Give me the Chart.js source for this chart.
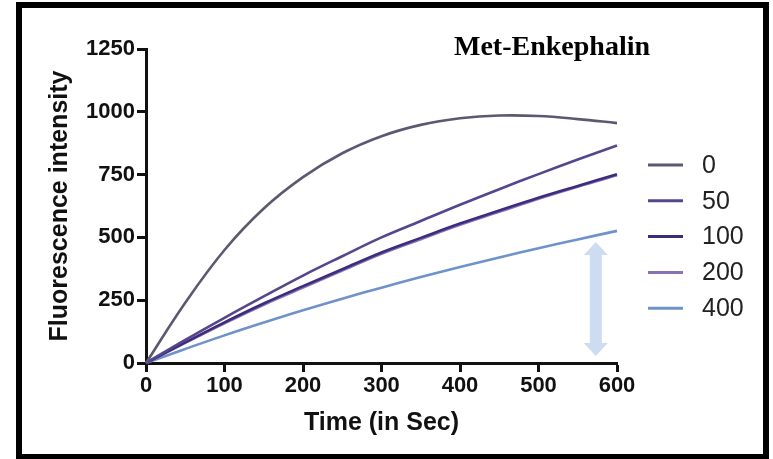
<!DOCTYPE html>
<html>
<head>
<meta charset="utf-8">
<script src="https://cdn.jsdelivr.net/npm/chart.js@4"></script>
<style>
  html, body { margin: 0; padding: 0; background: #fff; }
  body { width: 773px; height: 459px; position: relative; overflow: hidden; }
  .frame {
    position: absolute; left: 16px; top: 2px; width: 741px; height: 446px;
    border: 6px solid #000; background: #fff;
  }
  #chart { position: absolute; left: 0; top: 0; }
</style>
</head>
<body>
<div class="frame"></div>
<canvas id="chart" width="773" height="459"></canvas>
<script>
// time points (sec)
const timePoints = [0, 50, 100, 150, 200, 250, 300, 350, 400, 450, 500, 550, 600];

// fluorescence per concentration
const conc0   = [0, 240, 450, 615, 740, 835, 903, 948, 974, 985, 983, 971, 955];
const conc50  = [0, 92, 180, 265, 348, 425, 500, 565, 630, 692, 752, 810, 866];
const conc100 = [0, 82, 162, 237, 306, 373, 440, 498, 555, 607, 658, 705, 751];
const conc200 = [0, 80, 158, 232, 300, 368, 435, 493, 550, 602, 654, 702, 747];
const conc400 = [0, 56, 110, 161, 210, 256, 300, 342, 382, 420, 457, 492, 526];

const seriesLabels = ["0", "50", "100", "200", "400"];
const seriesColors = ["#5d5871", "#56468c", "#3c2d7c", "#8a72b9", "#6e92c9"];

const xTicks = [0, 100, 200, 300, 400, 500, 600];
const yTicks = [0, 250, 500, 750, 1000, 1250];

// double arrow marking the drop (x, from y, to y) in data units
const arrowX = 573;
const arrowFrom = 28;
const arrowTo = 482;

const allSeries = [conc0, conc50, conc100, conc200, conc400];

const datasets = allSeries.map((vals, i) => ({
  label: seriesLabels[i],
  data: vals.map((v, j) => ({ x: timePoints[j], y: v })),
  borderColor: seriesColors[i],
  backgroundColor: seriesColors[i],
  borderWidth: 2.6,
  pointRadius: 0,
  tension: 0.4,
  fill: false,
  clip: false,
}));

// custom legend, title and arrow
const extras = {
  id: "extras",
  beforeDatasetsDraw(chart) {
    const { ctx, scales } = chart;
    const x = scales.x.getPixelForValue(arrowX);
    const yTop = scales.y.getPixelForValue(arrowTo);
    const yBot = scales.y.getPixelForValue(arrowFrom);
    const shaft = 6, head = 12, headLen = 13;
    ctx.save();
    ctx.fillStyle = "#cddcf0";
    ctx.beginPath();
    ctx.moveTo(x, yTop);
    ctx.lineTo(x + head, yTop + headLen);
    ctx.lineTo(x + shaft, yTop + headLen);
    ctx.lineTo(x + shaft, yBot - headLen);
    ctx.lineTo(x + head, yBot - headLen);
    ctx.lineTo(x, yBot);
    ctx.lineTo(x - head, yBot - headLen);
    ctx.lineTo(x - shaft, yBot - headLen);
    ctx.lineTo(x - shaft, yTop + headLen);
    ctx.lineTo(x - head, yTop + headLen);
    ctx.closePath();
    ctx.fill();
    ctx.restore();
  },
  afterDraw(chart) {
    const { ctx, chartArea } = chart;
    ctx.save();
    // title
    ctx.fillStyle = "#000";
    ctx.font = "bold 28px 'Liberation Serif', serif";
    ctx.textAlign = "center";
    ctx.textBaseline = "alphabetic";
    ctx.fillText("Met-Enkephalin", chartArea.right - 65, chartArea.top + 6);
    // legend
    ctx.font = "25px 'Liberation Sans', Arial, sans-serif";
    ctx.textAlign = "left";
    ctx.textBaseline = "middle";
    seriesLabels.forEach((lab, i) => {
      const y = chartArea.top + 116 + i * 35.8;
      ctx.strokeStyle = seriesColors[i];
      ctx.lineWidth = 3;
      ctx.beginPath();
      ctx.moveTo(chartArea.right + 31, y);
      ctx.lineTo(chartArea.right + 66, y);
      ctx.stroke();
      ctx.fillStyle = "#222";
      ctx.fillText(lab, chartArea.right + 85, y + 1);
    });
    ctx.restore();
  },
};

const tickFont = { family: "'Liberation Sans', Arial, sans-serif", size: 22, weight: "bold" };
const titleFont = { family: "'Liberation Sans', Arial, sans-serif", size: 25, weight: "bold" };

new Chart(document.getElementById("chart").getContext("2d"), {
  type: "line",
  data: { datasets },
  plugins: [extras],
  options: {
    responsive: false,
    animation: false,
    layout: { padding: { left: 22, top: 49, right: 156, bottom: 14 } },
    plugins: { legend: { display: false }, tooltip: { enabled: false } },
    scales: {
      x: {
        type: "linear",
        min: 0,
        max: 600,
        afterBuildTicks(scale) { scale.ticks = xTicks.map(v => ({ value: v })); },
        afterFit(scale) { scale.height = 82; },
        ticks: { color: "#111", font: tickFont, padding: 1, maxRotation: 0, callback: v => String(v) },
        grid: { drawOnChartArea: false, drawTicks: true, tickLength: 9, tickWidth: 3, tickColor: "#111" },
        border: { display: true, color: "#111", width: 3 },
        title: { display: true, text: "Time (in Sec)", color: "#111", font: titleFont, padding: { top: 0, bottom: 7 } },
      },
      y: {
        min: 0,
        max: 1250,
        afterBuildTicks(scale) { scale.ticks = yTicks.map(v => ({ value: v })); },
        afterFit(scale) { scale.width = 124; },
        ticks: { color: "#111", font: tickFont, padding: 2, callback: v => String(v) },
        grid: { drawOnChartArea: false, drawTicks: true, tickLength: 9, tickWidth: 3, tickColor: "#111" },
        border: { display: true, color: "#111", width: 3 },
        title: { display: true, text: "Fluorescence intensity", color: "#111", font: titleFont, padding: { top: 23, bottom: 0 } },
      },
    },
  },
});
</script>
</body>
</html>
